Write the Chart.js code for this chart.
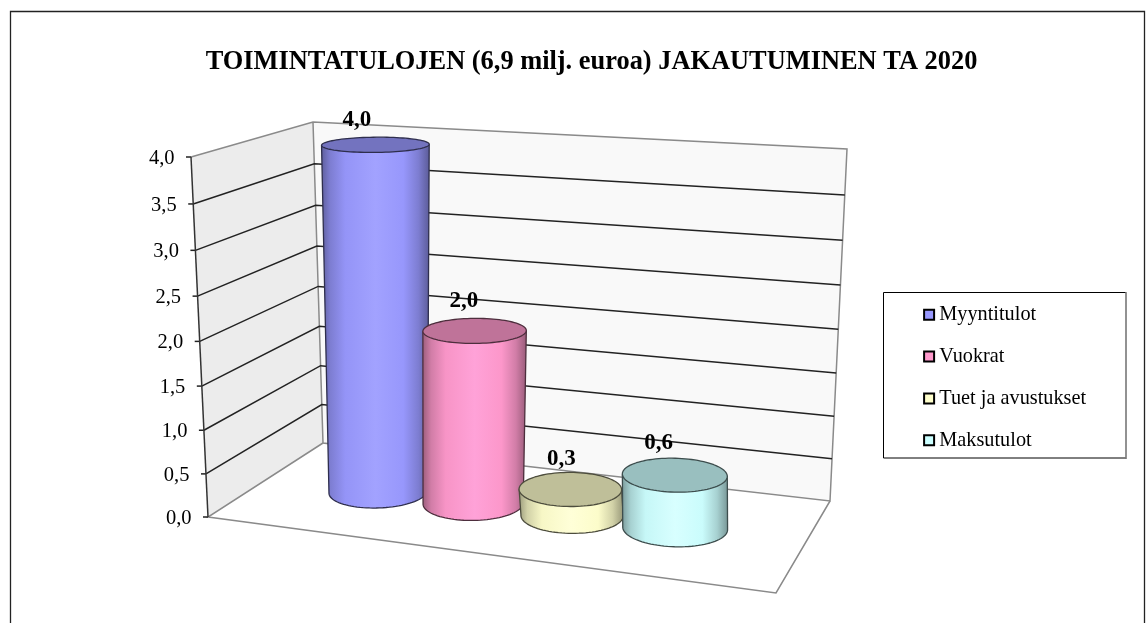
<!DOCTYPE html>
<html>
<head>
<meta charset="utf-8">
<title>Toimintatulot</title>
<script src="https://cdn.jsdelivr.net/npm/chart.js@4/dist/chart.umd.min.js"></script>
<style>
  html, body { margin: 0; padding: 0; background: #fff; }
  #wrap { width: 1147px; height: 623px; }
</style>
</head>
<body>
<div id="wrap"><canvas id="myChart" width="1147" height="623"></canvas></div>
<script>
const titleText = 'TOIMINTATULOJEN (6,9 milj. euroa) JAKAUTUMINEN TA 2020';
const categories = ['TA 2020'];
const seriesNames = ['Myyntitulot', 'Vuokrat', 'Tuet ja avustukset', 'Maksutulot'];
const seriesValues = [4.0, 2.0, 0.3, 0.6];
const seriesColors = ['#9999FF', '#FF99CC', '#FFFFCC', '#CCFFFF'];
const yTicks = [0, 0.5, 1, 1.5, 2, 2.5, 3, 3.5, 4];
const yTickLabels = ['0,0', '0,5', '1,0', '1,5', '2,0', '2,5', '3,0', '3,5', '4,0'];

const fontName = '"Liberation Serif", "Times New Roman", serif';

// corners of the 3D box on screen: front left, front right, back right, back left
const floorQuad = [[208, 517], [776, 593], [830, 501], [323, 443]];
const topQuad = [[191, 157], [794, 189], [847, 149], [313, 122]];
const depthCentre = 0.5;
const depthRadius = 0.2;
const topShift = -0.005;
// data label offset from the centre of the cylinder top
const labelShift = [[-19, -25], [-11, -30], [-9, -30], [-16, -32]];

function quadMap(q) {
  const [p0, p1, p2, p3] = q;
  const dx1 = p1[0] - p2[0], dx2 = p3[0] - p2[0], sx = p0[0] - p1[0] + p2[0] - p3[0];
  const dy1 = p1[1] - p2[1], dy2 = p3[1] - p2[1], sy = p0[1] - p1[1] + p2[1] - p3[1];
  const den = dx1 * dy2 - dx2 * dy1;
  const g = (sx * dy2 - dx2 * sy) / den;
  const h = (dx1 * sy - sx * dy1) / den;
  const a = p1[0] - p0[0] + g * p1[0], b = p3[0] - p0[0] + h * p3[0];
  const d = p1[1] - p0[1] + g * p1[1], e = p3[1] - p0[1] + h * p3[1];
  return (u, w) => {
    const k = g * u + h * w + 1;
    return [(a * u + b * w + p0[0]) / k, (d * u + e * w + p0[1]) / k];
  };
}
const floorAt = quadMap(floorQuad);
const topAt = quadMap(topQuad);

// u along the categories, v up the value axis, w into the picture, all 0..1
function project(u, v, w) {
  const t = v / (v + 1.05 * (1 - v));
  const f = floorAt(u, w), c = topAt(u, w);
  return [f[0] + (c[0] - f[0]) * t, f[1] + (c[1] - f[1]) * t];
}

function shade(hex, k) {
  const n = parseInt(hex.slice(1), 16);
  const ch = s => Math.min(255, Math.round(((n >> s) & 255) * k));
  return 'rgb(' + ch(16) + ',' + ch(8) + ',' + ch(0) + ')';
}

function poly(ctx, pts, close) {
  ctx.beginPath();
  pts.forEach((p, i) => i ? ctx.lineTo(p[0], p[1]) : ctx.moveTo(p[0], p[1]));
  if (close) ctx.closePath();
}

function drawFrame(ctx, w, h) {
  ctx.save();
  ctx.strokeStyle = '#222';
  ctx.lineWidth = 1.3;
  poly(ctx, [[10.5, h], [10.5, 11.5], [1144.5, 11.5], [1144.5, h]]);
  ctx.stroke();
  // legend box
  ctx.lineWidth = 1;
  ctx.strokeStyle = '#000';
  poly(ctx, [[1126, 458], [883.5, 458], [883.5, 292.5], [1126, 292.5]]);
  ctx.stroke();
  ctx.strokeStyle = '#777';
  ctx.lineWidth = 1.6;
  poly(ctx, [[1126, 292], [1126, 459]]);
  ctx.stroke();
  ctx.restore();
}

function drawWalls(ctx, scale) {
  const A = project(0, 0, 0), B = project(1, 0, 0), C = project(1, 0, 1), D = project(0, 0, 1);
  const E = project(0, 1, 0), F = project(0, 1, 1), G = project(1, 1, 1);
  ctx.save();
  ctx.fillStyle = '#ececec';
  poly(ctx, [A, E, F, D], true);
  ctx.fill();
  ctx.fillStyle = '#f9f9f9';
  poly(ctx, [D, F, G, C], true);
  ctx.fill();

  ctx.strokeStyle = '#8a8a8a';
  ctx.lineWidth = 1.5;
  poly(ctx, [E, F, G, C, D, F]);
  ctx.stroke();
  poly(ctx, [D, A, B, C]);
  ctx.stroke();

  // grid lines and axis come from the value scale
  ctx.strokeStyle = '#222';
  ctx.lineWidth = 1.5;
  ctx.fillStyle = '#000';
  ctx.font = '20.5px ' + fontName;
  ctx.textAlign = 'right';
  ctx.textBaseline = 'middle';
  scale.ticks.forEach(t => {
    const v = (scale.bottom - scale.getPixelForValue(t.value)) / (scale.bottom - scale.top);
    const p0 = project(0, v, 0), p1 = project(0, v, 1), p2 = project(1, v, 1);
    if (t.value > 0 && t.value < 4) {
      poly(ctx, [p0, p1, p2]);
      ctx.stroke();
    }
    poly(ctx, [[p0[0] - 5, p0[1]], p0]);
    ctx.stroke();
    ctx.fillText(t.label, p0[0] - 16.5, p0[1] + 1.5);
  });
  ctx.strokeStyle = '#333';
  poly(ctx, [A, E]);
  ctx.stroke();
  ctx.restore();
}

function ring(u0, ru, v) {
  const pts = [];
  for (let i = 0; i < 96; i++) {
    const a = i / 96 * Math.PI * 2;
    pts.push(project(u0 + ru * Math.cos(a), v, depthCentre + depthRadius * Math.sin(a)));
  }
  return pts;
}

function extremes(pts) {
  let lo = pts[0], hi = pts[0];
  pts.forEach(p => {
    if (p[0] < lo[0]) lo = p;
    if (p[0] > hi[0]) hi = p;
  });
  return [lo, hi];
}

function barCentre(bar, area) {
  return (bar.x - area.left) / area.width;
}

function barHeight(bar, area) {
  return (area.bottom - bar.y) / area.height;
}

function drawCylinder(ctx, bar, color, area) {
  const u0 = barCentre(bar, area);
  const ru = bar.width / 2 / area.width;
  const top = ring(u0 + topShift, ru, barHeight(bar, area));
  const bottom = ring(u0, ru, 0);
  const [tl, tr] = extremes(top);
  const [bl, br] = extremes(bottom);

  const slope = (br[1] - bl[1]) / (br[0] - bl[0]);
  const frontArc = bottom
    .filter(p => p[1] >= bl[1] + (p[0] - bl[0]) * slope)
    .sort((a, b) => a[0] - b[0]);

  const x0 = Math.min(tl[0], bl[0]), x1 = Math.max(tr[0], br[0]);
  const grad = ctx.createLinearGradient(x0, 0, x1, 0);
  [[0, 0.62], [0.08, 0.82], [0.22, 0.97], [0.5, 1.06], [0.76, 0.99], [0.9, 0.82], [1, 0.6]]
    .forEach(s => grad.addColorStop(s[0], shade(color, s[1])));

  ctx.save();
  ctx.lineJoin = 'round';
  ctx.strokeStyle = shade(color, 0.3);
  ctx.lineWidth = 1.3;
  ctx.fillStyle = grad;
  poly(ctx, [tl, bl, ...frontArc, br, tr], true);
  ctx.fill();
  poly(ctx, [tl, bl, ...frontArc, br, tr]);
  ctx.stroke();
  ctx.fillStyle = shade(color, 0.75);
  poly(ctx, top, true);
  ctx.fill();
  ctx.stroke();
  ctx.restore();
}

// the 3D look: walls, then cylinders in series order, then value labels
const box3d = {
  id: 'box3d',
  beforeDraw(chart) {
    drawFrame(chart.ctx, chart.width, chart.height);
  },
  afterLayout(chart) {
    const lg = chart.legend;
    lg.left = 907.5;
    lg.right = 1126;
    lg.top = 282.9;
    lg.bottom = 480;
  },
  beforeDatasetsDraw(chart) {
    const ctx = chart.ctx;
    const area = chart.chartArea;
    drawWalls(ctx, chart.scales.y);
    chart.data.datasets.forEach((ds, i) => {
      drawCylinder(ctx, chart.getDatasetMeta(i).data[0], ds.backgroundColor, area);
    });
    ctx.save();
    ctx.fillStyle = '#000';
    ctx.font = 'bold 23px ' + fontName;
    ctx.textAlign = 'center';
    ctx.textBaseline = 'middle';
    chart.data.datasets.forEach((ds, i) => {
      const bar = chart.getDatasetMeta(i).data[0];
      const p = project(barCentre(bar, area) + topShift, barHeight(bar, area), depthCentre);
      ctx.fillText(ds.data[0].toFixed(1).replace('.', ','), p[0] + labelShift[i][0], p[1] + labelShift[i][1]);
    });
    ctx.restore();
    return false;
  }
};

new Chart(document.getElementById('myChart'), {
  type: 'bar',
  data: {
    labels: categories,
    datasets: seriesNames.map((name, i) => ({
      label: name,
      data: [seriesValues[i]],
      backgroundColor: seriesColors[i],
      borderColor: '#000',
      borderWidth: 2,
      barPercentage: 0.96,
      categoryPercentage: 0.74
    }))
  },
  options: {
    responsive: false,
    animation: false,
    layout: { padding: { left: 36 } },
    scales: {
      x: { display: false },
      y: {
        display: false,
        min: 0,
        max: 4,
        afterBuildTicks: s => { s.ticks = yTicks.map(v => ({ value: v })); },
        ticks: { callback: (v, i) => yTickLabels[i] }
      }
    },
    plugins: {
      title: {
        display: true,
        text: titleText,
        color: '#000',
        font: { family: fontName, size: 26.4, weight: 'bold' },
        padding: { top: 46, bottom: 8 }
      },
      legend: {
        position: 'right',
        align: 'start',
        labels: {
          color: '#000',
          font: { family: fontName, size: 20.3 },
          usePointStyle: true,
          pointStyle: 'rect',
          boxWidth: 0.01,
          boxHeight: 10,
          padding: 21.6
        }
      },
      tooltip: { enabled: false }
    }
  },
  plugins: [box3d]
});
</script>
</body>
</html>
